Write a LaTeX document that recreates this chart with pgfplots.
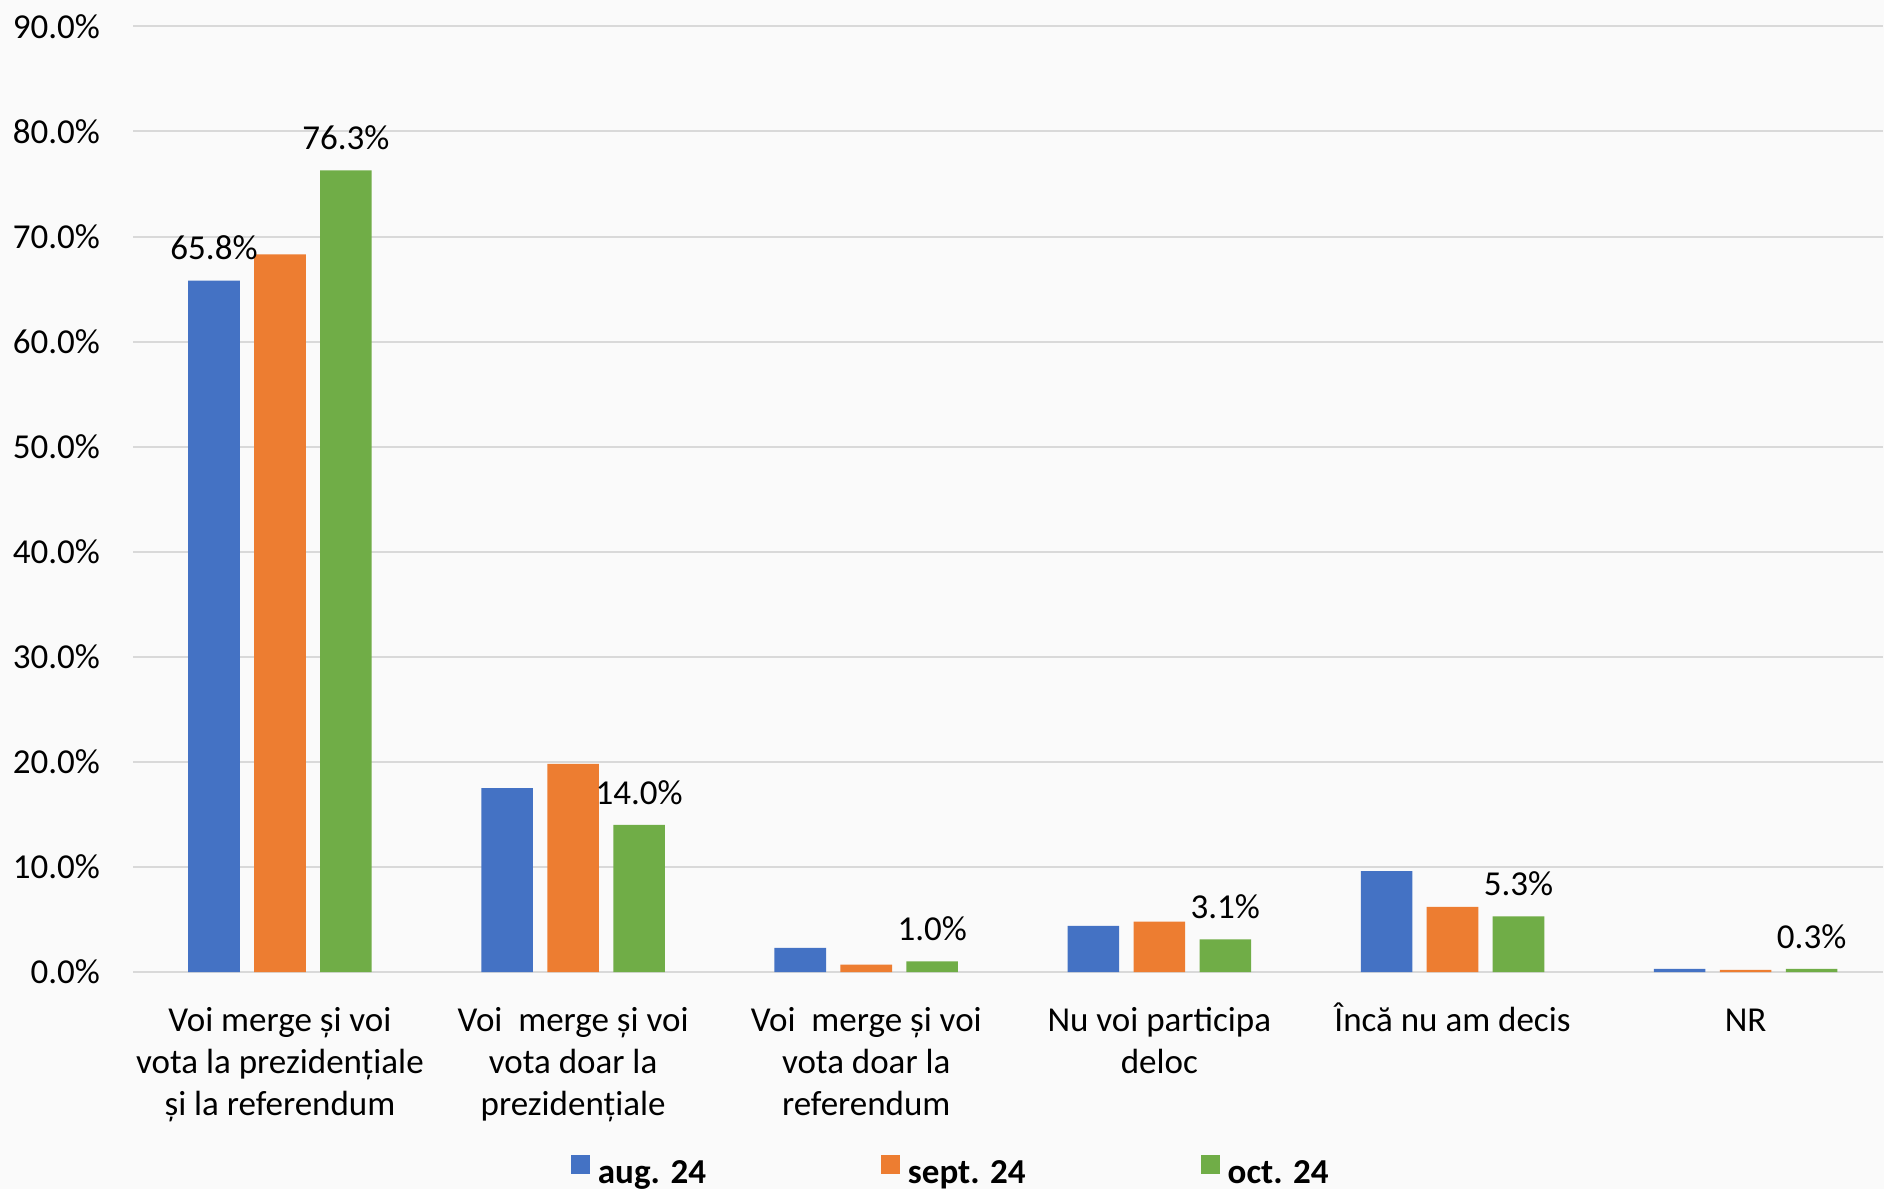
\documentclass[border=0pt]{standalone}
\usepackage{fontspec}
\setmainfont{Carlito}
\usepackage{pgfplots}
\pgfplotsset{compat=1.18}
\definecolor{cblue}{HTML}{4472C4}
\definecolor{corange}{HTML}{ED7D31}
\definecolor{cgreen}{HTML}{70AD47}
\definecolor{cgrid}{HTML}{D9D9D9}
\begin{document}
\fontsize{17.5}{21}\selectfont
\begin{tikzpicture}
\path[use as bounding box, fill=black!2] (-66.7pt,-108.5pt) rectangle (875.3pt,486pt);
\begin{axis}[
  scale only axis,
  width=875pt, height=472.8pt,
  xmin=-0.5, xmax=5.47, ymin=0, ymax=90,
  axis line style={draw=none},
  major tick length=0pt,
  ymajorgrids, grid style={draw=cgrid, line width=1pt},
  ytick={0,10,...,90},
  /pgf/number format/assume math mode=true,
  yticklabel={\pgfmathprintnumber[fixed,fixed zerofill,precision=1]{\tick}\%},
  yticklabel style={font=\fontsize{17.5}{21}\selectfont, xshift=-10.7pt},
  xtick={0,1,2,3,4,5},
  xticklabels={{\strut Voi merge și voi\\vota la prezidențiale\\și la referendum},
               {\strut Voi~ merge și voi\\vota doar la\\prezidențiale},
               {\strut Voi~ merge și voi\\vota doar la\\referendum},
               {\strut Nu voi participa\\deloc},
               {\strut Încă nu am decis},
               {\strut NR}},
  xticklabel style={font=\fontsize{17.5}{21}\selectfont, align=center, anchor=north, inner sep=0pt, yshift=-14.8pt},
  every node near coord/.append style={font=\fontsize{17.5}{21}\selectfont, black, yshift=4.2pt},
  legend columns=3,
  legend style={at={(axis description cs:0.2498,-0.1936)}, anchor=north west, draw=none, fill=none, inner sep=0pt,
    font=\bfseries\fontsize{17.5}{21}\selectfont,
    /tikz/every odd column/.append style={column sep=2pt},
    /tikz/every even column/.append style={column sep=85.5pt}},
  legend image code/.code={\fill[#1] (0pt,0pt) rectangle (9.5pt,9.5pt);},
]
\addplot[ybar, bar width=0.176, bar shift=0pt, fill=cblue, draw=none] coordinates
  {(-0.225,65.8) (0.775,17.5) (1.775,2.3) (2.775,4.4) (3.775,9.6) (4.775,0.3)};
\addlegendentry{aug. 24}
\addplot[ybar, bar width=0.176, bar shift=0pt, fill=corange, draw=none] coordinates
  {(0,68.3) (1,19.8) (2,0.7) (3,4.8) (4,6.2) (5,0.2)};
\addlegendentry{sept. 24}
\addplot[ybar, bar width=0.176, bar shift=0pt, fill=cgreen, draw=none,
  nodes near coords={\pgfmathprintnumber[fixed,fixed zerofill,precision=1]{\pgfplotspointmeta}\%}] coordinates
  {(0.225,76.3) (1.225,14.0) (2.225,1.0) (3.225,3.1) (4.225,5.3) (5.225,0.3)};
\addlegendentry{oct. 24}
\addplot[ybar, bar width=0.176, bar shift=0pt, fill=none, draw=none, forget plot,
  nodes near coords={\pgfmathprintnumber[fixed,fixed zerofill,precision=1]{\pgfplotspointmeta}\%}] coordinates
  {(-0.225,65.8)};
\end{axis}
\end{tikzpicture}
\end{document}
